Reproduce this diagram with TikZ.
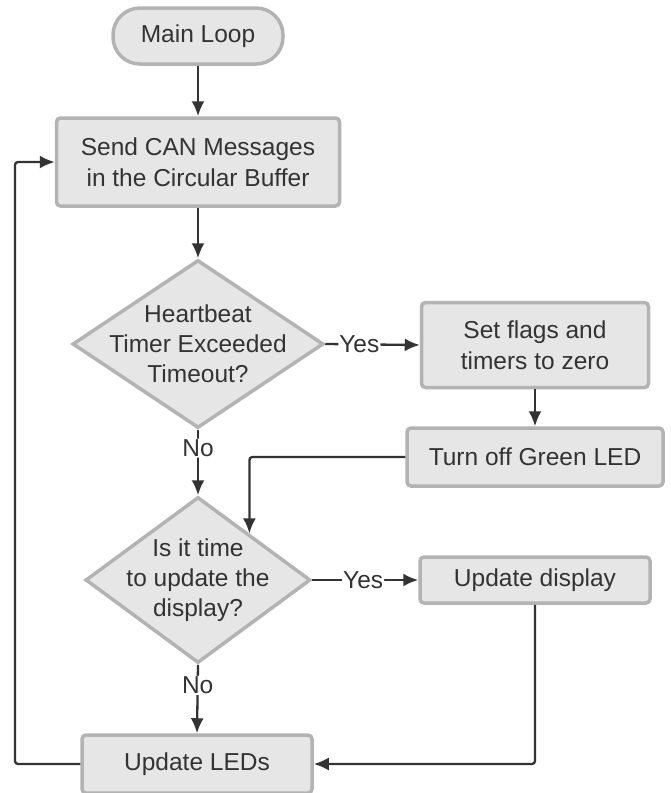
\documentclass[tikz,border=0pt]{standalone}
\usepackage{fontspec}
\setmainfont{Liberation Sans}
\usepackage{tikz}
\usetikzlibrary{arrows.meta}
\usetikzlibrary{shapes.geometric}
\usetikzlibrary{calc}
\definecolor{boxfill}{HTML}{E6E6E6}
\definecolor{boxline}{HTML}{B3B3B3}
\definecolor{inkcolor}{HTML}{333333}
\tikzset{
  base/.style={draw=boxline,fill=boxfill,line width=3.5pt,text=inkcolor,align=center,inner sep=0pt,
    font=\fontsize{24.5}{31}\selectfont},
  process/.style={base,rectangle,rounded corners=4pt},
  terminal/.style={base,rectangle,rounded corners=27pt},
  decision/.style={base,diamond},
  flow/.style={draw=inkcolor,line width=2.3pt,rounded corners=3pt,-{Latex[length=15pt,width=13pt]}},
  answer/.style={fill=white,text=inkcolor,inner sep=1pt,font=\fontsize{24.5}{28}\selectfont}
}

\begin{document}
\begin{tikzpicture}[x=1pt,y=-1pt]
\useasboundingbox[fill=white] (0,0) rectangle (670,793);
  \node[terminal,minimum width=170pt,minimum height=56pt] (mainloop) at (198,36) {Main Loop};
  \node[process,minimum width=283pt,minimum height=88pt] (sendcan) at (198,162) {Send CAN Messages\\in the Circular Buffer};
  \node[decision,minimum width=251pt,minimum height=168pt,
        label={[base,draw=none,fill=none,font=\fontsize{24.5}{30}\selectfont]center:Heartbeat\\Timer Exceeded\\Timeout?}] (heartbeat) at (198,344) {};
  \node[process,minimum width=227pt,minimum height=85pt] (setflags) at (535,345) {Set flags and\\timers to zero};
  \node[process,minimum width=256pt,minimum height=58pt] (greenled) at (535,457) {Turn off Green LED};
  \node[decision,minimum width=225pt,minimum height=166pt,
        label={[base,draw=none,fill=none,font=\fontsize{24.5}{30}\selectfont]center:Is it time\\to update the\\display?}] (ask) at (198,580) {};
  \node[process,minimum width=230pt,minimum height=46pt] (display) at (535,580) {Update display};
  \node[process,minimum width=230pt,minimum height=58pt] (leds) at (197,764) {Update LEDs};
  \coordinate (back) at (15,764);
%% connectors
  \draw[flow] (mainloop) -- (sendcan);
  \draw[flow] (sendcan) -- (heartbeat);
  \draw[flow] (heartbeat.east) -- node[answer,pos=0.36] {Yes} (setflags.west);
  \draw[flow] (heartbeat.south) -- node[answer,pos=0.28] {No} (ask.north);
  \draw[flow] (setflags) -- (greenled);
  \draw[flow] (greenled.west) -| ($(ask.north)!0.45!(ask.east)$);
  \draw[flow] (ask.east) -- node[answer,pos=0.48] {Yes} (display.west);
  \draw[flow] (ask.south) -- node[answer,pos=0.3] {No} (leds.north);
  \draw[flow] (display.south) |- (leds.east);
  \draw[flow] (leds.west) -- (back) |- (sendcan.west);
\end{tikzpicture}
\end{document}
